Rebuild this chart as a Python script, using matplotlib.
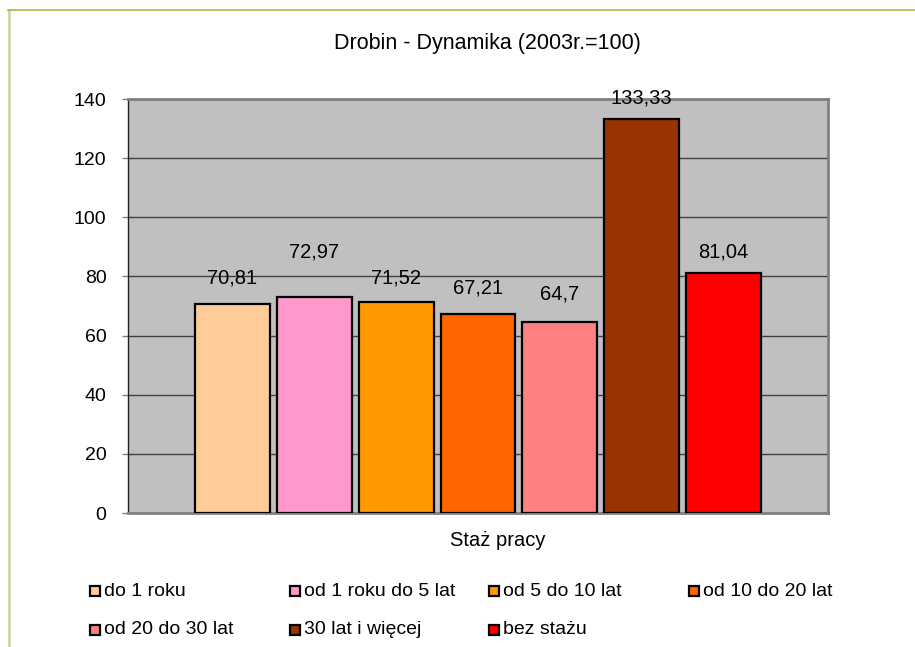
import matplotlib.pyplot as plt
from matplotlib.lines import Line2D
from matplotlib.patches import Rectangle

plt.rcParams['font.family'] = ['Liberation Sans', 'DejaVu Sans']

# Dynamics per length of service (2003 = 100)
categories = ['do 1 roku', 'od 1 roku do 5 lat', 'od 5 do 10 lat', 'od 10 do 20 lat',
              'od 20 do 30 lat', '30 lat i więcej', 'bez stażu']
values = [70.81, 72.97, 71.52, 67.21, 64.7, 133.33, 81.04]
labels = ['70,81', '72,97', '71,52', '67,21', '64,7', '133,33', '81,04']

colors = ['#FFCC99', '#FF99CC', '#FF9900', '#FF6600', '#FF8080', '#993300', '#FF0000']
label_lift = [26, 45, 24, 26, 28, 21, 21]  # pixels above bar top

fig = plt.figure(figsize=(9.15, 6.47), dpi=100)
ax = fig.add_axes([128 / 915, 1 - 513 / 647, 700 / 915, 414 / 647])
ax.set_facecolor('#C0C0C0')

x = range(len(values))
ax.bar(x, values, width=0.915, color=colors, edgecolor='black', linewidth=1.6, zorder=3)
for i, (v, lab) in enumerate(zip(values, labels)):
    ax.annotate(lab, (i, v), xytext=(0, label_lift[i]), textcoords='offset pixels',
                ha='center', va='center', fontsize=14.5, zorder=4)

ax.set_xlim(-1.274, len(values) - 1 + 1.274)
ax.set_ylim(0, 140)
ax.set_yticks(range(0, 141, 20))
ax.set_xticks([])
ax.tick_params(axis='y', labelsize=14, length=4.5, width=1, color='#808080', pad=11)
ax.yaxis.grid(True, color='#404040', linewidth=1)
ax.set_axisbelow(True)
ax.spines['left'].set_color('#202020')
ax.spines['left'].set_linewidth(1)
for s in ['top', 'right', 'bottom']:
    ax.spines[s].set_color('#808080')
    ax.spines[s].set_linewidth(2)

fig.text(487 / 915, 1 - 44 / 647, 'Drobin - Dynamika (2003r.=100)', ha='center', va='center', fontsize=15.5)
fig.text(498 / 915, 1 - 540 / 647, 'Staż pracy', ha='center', va='center', fontsize=14.5)

# legend laid out in a fixed 4-column grid
col_x = [90, 290, 489, 689]
row_y = [591, 630]
for i, (cat, c) in enumerate(zip(categories, colors)):
    px = col_x[i % 4]
    py = row_y[i // 4]
    fig.patches.append(Rectangle((px / 915, (647 - py - 5) / 647), 10 / 915, 10 / 647,
                                 transform=fig.transFigure, facecolor=c,
                                 edgecolor='black', linewidth=1.6))
    fig.text((px + 14) / 915, 1 - py / 647, cat, ha='left', va='center', fontsize=14)

# outer chart frame
fig.add_artist(Line2D([9 / 915, 9 / 915], [0, 1 - 10 / 647], transform=fig.transFigure,
                      color='#D2D4A4', linewidth=2))
fig.add_artist(Line2D([8 / 915, 1], [1 - 10 / 647, 1 - 10 / 647], transform=fig.transFigure,
                      color='#B4B048', linewidth=1.2))

fig.savefig('out.png', dpi=100)
